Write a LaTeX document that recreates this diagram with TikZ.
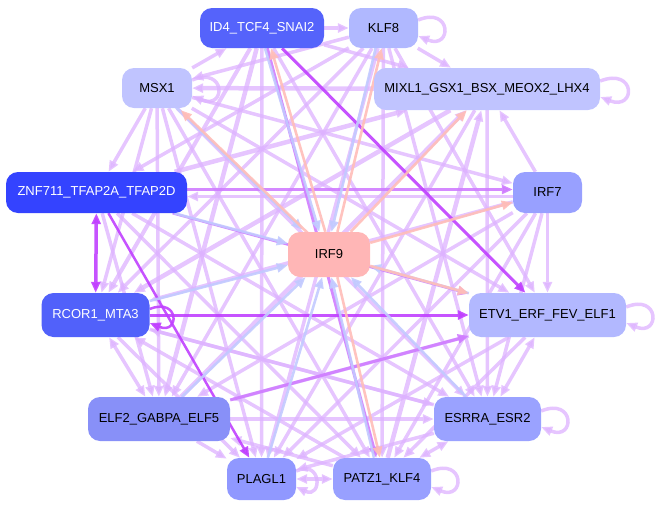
\documentclass[tikz,border=0pt]{standalone}
\usepackage{fontspec}
\setmainfont{Liberation Sans}
\usetikzlibrary{arrows.meta,calc,backgrounds}
\definecolor{cA}{HTML}{5563FB}
\definecolor{cB}{HTML}{B0B8FF}
\definecolor{cC}{HTML}{C0C4FF}
\definecolor{cD}{HTML}{C0C4FF}
\definecolor{cE}{HTML}{3443FF}
\definecolor{cF}{HTML}{98A0FF}
\definecolor{cG}{HTML}{FFB6B6}
\definecolor{cH}{HTML}{5161FA}
\definecolor{cI}{HTML}{B2B8FF}
\definecolor{cJ}{HTML}{8890F8}
\definecolor{cK}{HTML}{9AA2FF}
\definecolor{cL}{HTML}{9098FF}
\definecolor{cM}{HTML}{98A0FF}
\definecolor{lavc}{HTML}{DDB2FF}
\definecolor{midc}{HTML}{CF7CFF}
\definecolor{darkc}{HTML}{C040FF}
\definecolor{pinkc}{HTML}{FFBDB8}
\definecolor{bluec}{HTML}{C2CAFF}
\begin{document}
\begin{tikzpicture}[x=1pt,y=-1pt,
  nd/.style={rectangle,rounded corners=12pt,inner sep=0pt,font=\fontsize{13}{15}\selectfont},
  arr/.style={-{Triangle[length=11pt,width=9pt]}},
  darr/.style={{Triangle[length=11pt,width=9pt]}-{Triangle[length=11pt,width=9pt]}},
  lav/.style={draw=lavc,opacity=0.75,line width=3.5pt},
  midp/.style={draw=midc,opacity=0.9,line width=3pt},
  darkp/.style={draw=darkc,opacity=0.9,line width=3pt},
  pinke/.style={draw=pinkc,opacity=0.9,line width=2.6pt,arr},
  bluee/.style={draw=bluec,opacity=0.9,line width=2.6pt,arr}]
\useasboundingbox (0,0) rectangle (657,509);
% nodes
\node[nd,fill=cA,text=white,minimum width=124pt,minimum height=40pt] (A) at (262,28) {ID4\_TCF4\_SNAI2};
\node[nd,fill=cB,minimum width=69pt,minimum height=40pt] (B) at (383.5,28) {KLF8};
\node[nd,fill=cC,minimum width=70pt,minimum height=40pt] (C) at (157,88) {MSX1};
\node[nd,fill=cD,minimum width=226pt,minimum height=42pt] (D) at (487,89) {MIXL1\_GSX1\_BSX\_MEOX2\_LHX4};
\node[nd,fill=cE,text=white,minimum width=181pt,minimum height=41pt] (E) at (96.5,192.5) {ZNF711\_TFAP2A\_TFAP2D};
\node[nd,fill=cF,minimum width=69pt,minimum height=41pt] (F) at (547.5,192.5) {IRF7};
\node[nd,fill=cG,minimum width=82pt,minimum height=45pt] (G) at (329,254.5) {IRF9};
\node[nd,fill=cH,text=white,minimum width=108pt,minimum height=44pt] (H) at (95.5,315) {RCOR1\_MTA3};
\node[nd,fill=cI,minimum width=157pt,minimum height=44pt] (I) at (547.5,315) {ETV1\_ERF\_FEV\_ELF1};
\node[nd,fill=cJ,minimum width=142pt,minimum height=44pt] (J) at (159,419) {ELF2\_GABPA\_ELF5};
\node[nd,fill=cK,minimum width=107pt,minimum height=44pt] (K) at (487.5,419) {ESRRA\_ESR2};
\node[nd,fill=cL,minimum width=69pt,minimum height=42pt] (L) at (261.5,479) {PLAGL1};
\node[nd,fill=cM,minimum width=98pt,minimum height=42pt] (M) at (382,479) {PATZ1\_KLF4};
\begin{pgfonlayer}{background}
% lavender edges
\foreach \s/\t/\w in {A/B/3.5,B/D/3.5,C/A/3.5,D/C/4.5,C/E/3.5,B/E/3.5,F/D/3.5,F/I/3.5,J/L/3.5,
  A/H/4,A/J/4.5,A/L/3.5,A/K/3.5,A/D/3.5,
  B/C/3.5,B/J/3.5,B/L/3.5,B/M/3.5,B/K/3.5,B/H/3.5,B/I/3.5,
  C/F/3.5,C/I/3.5,C/K/3.5,C/M/3.5,C/L/3.5,C/J/3.5,C/H/3.5,
  D/H/4.5,D/L/3.5,D/K/3.5,
  E/D/4.5,E/K/3.5,E/M/3.5,E/J/3.5,
  F/H/3.5,F/J/3.5,F/L/3.5,F/M/3.5,F/K/3.5,
  H/K/3.5,H/L/3.5,
  I/J/3.5,I/L/3.5,I/M/3.5,
  J/D/4.5,J/K/3.5,
  K/L/3.5,K/H/3.5,
  M/D/4.5,M/J/3.5,M/H/3.5}
  \draw[lav,arr,line width=\w pt] (\s) -- (\t);
\draw[lav,arr,transform canvas={yshift=-4pt}] (F) -- (E);
\foreach \s/\t in {I/K,H/J,L/M,K/M}
  \draw[lav,darr] (\s) -- (\t);
% self loops
\foreach \n in {B,C,I,K,M}
  \draw[lav,arr] ($(\n.east)+(0,-8)$) .. controls +(34,-14) and +(34,14) .. ($(\n.east)+(0,8)$);
\draw[lav,arr] ($(D.east)+(0,-8)$) .. controls +(36,-14) and +(36,14) .. ($(D.east)+(0,8)$);
\draw[lav,arr] ($(L.east)+(0,-8)$) .. controls +(26,-12) and +(26,12) .. ($(L.east)+(0,8)$);
\draw[darkp,arr,line width=2.5pt] ($(H.east)+(0,-6)$) .. controls +(30,-12) and +(30,12) .. ($(H.east)+(0,8)$);
% medium / dark purple edges
\draw[midp,arr,line width=3pt] (A) -- (M);
\draw[midp,arr,line width=2.5pt,transform canvas={yshift=3pt}] (E) -- (F);
\draw[midp,arr,line width=3pt] (J) -- (I);
\draw[midp,arr,line width=2.5pt] (E) -- (I);
\draw[darkp,arr,line width=3pt] (A) -- (I);
\draw[darkp,arr,line width=3pt] (H) -- (I);
\draw[darkp,arr,line width=2.5pt] (E) -- (L);
\draw[darkp,darr,line width=3.5pt] (E) -- (H);
% blue edges into IRF9
\foreach \s in {E,H,J,L,K,I}
  \draw[bluee] (\s) -- (G);
\draw[bluee,transform canvas={xshift=-3pt}] (A) -- (G);
\draw[bluee,transform canvas={xshift=-3pt}] (B) -- (G);
\draw[bluee,transform canvas={shift={(-3pt,2pt)}}] (C) -- (G);
\draw[bluee,transform canvas={xshift=-3pt}] (M) -- (G);
% pink edges from IRF9
\draw[pinke,transform canvas={xshift=3pt}] (G) -- (A);
\draw[pinke,transform canvas={xshift=3pt}] (G) -- (B);
\draw[pinke,transform canvas={shift={(3pt,-2pt)}}] (G) -- (C);
\draw[pinke,transform canvas={xshift=3pt}] (G) -- (M);
\draw[pinke] (G) -- (D);
\draw[pinke] (G) -- (F);
\draw[pinke] (G) -- (I);
\end{pgfonlayer}
\end{tikzpicture}
\end{document}
